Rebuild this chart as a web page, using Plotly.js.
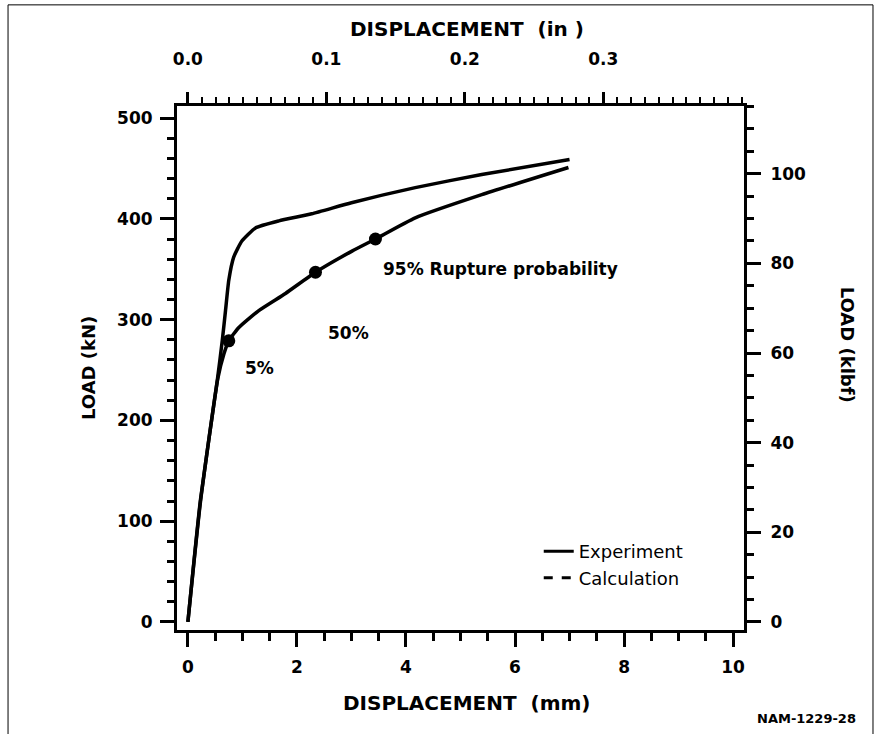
<!DOCTYPE html>
<html>
<head>
<meta charset="utf-8">
<script src="https://cdn.plot.ly/plotly-3.0.1.min.js"></script>
<style>html,body{margin:0;padding:0;background:#fff;}#chart{width:877px;height:734px;}</style>
</head>
<body>
<div id="chart"></div>
<script>
// Experiment curve (displacement mm, load kN)
const expDispMM = [0, 0.23, 0.54, 0.63, 0.69, 0.75, 0.84, 0.99, 1.24, 1.67, 2.27, 3.00, 4.17, 5.39, 7.0];
const expLoadKN = [0, 121, 240, 279, 309, 339, 362, 378, 391, 398, 405, 416, 431, 444, 459];
// Calculation curve
const calcDispMM = [0, 0.23, 0.55, 0.66, 0.75, 0.93, 1.30, 1.79, 2.34, 3.01, 3.44, 4.17, 5.39, 6.98];
const calcLoadKN = [0, 119, 242, 266, 279, 292, 309, 326, 347, 368, 380, 401, 424, 451];
// Rupture probability points
const ruptureLabels = ['5%', '50%', '95% Rupture probability'];
const ruptureDispMM = [0.75, 2.34, 3.44];
const ruptureLoadKN = [279, 347, 380];
// Tick labels
const mmTicks = [0, 2, 4, 6, 8, 10];
const inTicks = [0.0, 0.1, 0.2, 0.3];
const inTickText = ['0.0', '0.1', '0.2', '0.3'];
const kNTicks = [0, 100, 200, 300, 400, 500];
const kipTicks = [0, 20, 40, 60, 80, 100];

const MM_PER_IN = 25.4, KN_PER_KIP = 4.448;
const xr = [-0.2, 10.2], yr = [-8, 512];
const F = 'DejaVu Sans, Liberation Sans, sans-serif';
const tickFont = {family: F, size: 17, color: '#000', weight: 'bold'};

const traces = [
  {x: expDispMM, y: expLoadKN, mode: 'lines', line: {color: '#000', width: 3.5, shape: 'spline', smoothing: 0.5}, showlegend: false, hoverinfo: 'skip'},
  {x: calcDispMM, y: calcLoadKN, mode: 'lines', line: {color: '#000', width: 3.5, shape: 'spline', smoothing: 0.5}, showlegend: false, hoverinfo: 'skip'},
  {x: ruptureDispMM, y: ruptureLoadKN, mode: 'markers', marker: {color: '#000', size: 13, symbol: 'circle'}, showlegend: false, hoverinfo: 'skip'},
  {x: [null], y: [null], mode: 'lines', name: 'Experiment', line: {color: '#000', width: 3}},
  {x: [null], y: [null], mode: 'lines', name: 'Calculation', line: {color: '#000', width: 3, dash: 'dash'}},
  // invisible trace to activate secondary axes
  {x: [0], y: [0], xaxis: 'x2', yaxis: 'y2', mode: 'markers', marker: {opacity: 0}, showlegend: false, hoverinfo: 'skip'}
];

const anns = ruptureLabels.map((t, i) => ({
  text: t, xref: 'x', yref: 'y',
  x: ruptureDispMM[i] + [0.57, 0.61, 0.11][i],
  y: ruptureLoadKN[i] + [-27, -60, -30][i],
  xanchor: i === 2 ? 'left' : 'center', yanchor: 'middle', showarrow: false,
  font: {family: F, size: 17, color: '#000', weight: 'bold'}
}));
anns.push(
  {text: 'DISPLACEMENT  (mm)', xref: 'paper', yref: 'paper', x: 0.512, y: -0.139, yanchor: 'middle', showarrow: false, font: {family: F, size: 20, color: '#000', weight: 'bold'}},
  {text: 'DISPLACEMENT  (in )', xref: 'paper', yref: 'paper', x: 0.512, y: 1.147, yanchor: 'middle', showarrow: false, font: {family: F, size: 20, color: '#000', weight: 'bold'}},
  {text: 'LOAD (kN)', xref: 'paper', yref: 'paper', x: -0.157, y: 0.5, textangle: -90, xanchor: 'center', yanchor: 'middle', showarrow: false, font: {family: F, size: 18, color: '#000', weight: 'bold'}},
  {text: 'LOAD (klbf)', xref: 'paper', yref: 'paper', x: 1.183, y: 0.545, textangle: 90, xanchor: 'center', yanchor: 'middle', showarrow: false, font: {family: F, size: 18, color: '#000', weight: 'bold'}},
  {text: 'NAM-1229-28', xref: 'paper', yref: 'paper', x: 1.11, y: -0.168, xanchor: 'center', yanchor: 'middle', showarrow: false, font: {family: F, size: 13, color: '#000', weight: 'bold'}}
);

const axisCommon = {showgrid: false, zeroline: false, showline: true, linecolor: '#000', linewidth: 3,
  ticks: 'outside', tickcolor: '#000', tickwidth: 3, tickfont: tickFont};

const layout = {
  width: 877, height: 734,
  margin: {l: 177, r: 133, t: 106, b: 104},
  paper_bgcolor: '#fff', plot_bgcolor: '#fff',
  xaxis: Object.assign({}, axisCommon, {range: xr, tickvals: mmTicks, ticklen: 14, ticklabelstandoff: 6, mirror: false,
    minor: {dtick: 0.5, ticklen: 8, tickwidth: 3, tickcolor: '#000', ticks: 'outside'}}),
  yaxis: Object.assign({}, axisCommon, {range: yr, tickvals: kNTicks, ticklen: 14, ticklabelstandoff: 4, mirror: false,
    minor: {dtick: 20, ticklen: 7, tickwidth: 3, tickcolor: '#000', ticks: 'outside'}}),
  xaxis2: Object.assign({}, axisCommon, {overlaying: 'x', side: 'top', anchor: 'y',
    range: [xr[0] / MM_PER_IN, xr[1] / MM_PER_IN], tickvals: inTicks, ticktext: inTickText, ticklen: 11, ticklabelstandoff: 20,
    minor: {dtick: 0.01, ticklen: 6, tickwidth: 2, tickcolor: '#000', ticks: 'outside'}}),
  yaxis2: Object.assign({}, axisCommon, {overlaying: 'y', side: 'right', anchor: 'x',
    range: [yr[0] / KN_PER_KIP, yr[1] / KN_PER_KIP], tickvals: kipTicks, ticklen: 14, ticklabelstandoff: 6,
    minor: {dtick: 5, ticklen: 7, tickwidth: 3, tickcolor: '#000', ticks: 'outside'}}),
  legend: {x: 0.638, y: 0.185, xanchor: 'left', yanchor: 'top', bgcolor: 'rgba(0,0,0,0)',
    font: {family: F, size: 18, color: '#000'}, tracegroupgap: 0, itemwidth: 30},
  annotations: anns,
  shapes: [{type: 'rect', xref: 'paper', yref: 'paper', x0: -0.298, x1: 1.2275, y0: -0.2, y1: 1.193,
    line: {color: '#000', width: 1}}],
  showlegend: true
};

Plotly.newPlot('chart', traces, layout, {staticPlot: true, displayModeBar: false});
</script>
</body>
</html>
